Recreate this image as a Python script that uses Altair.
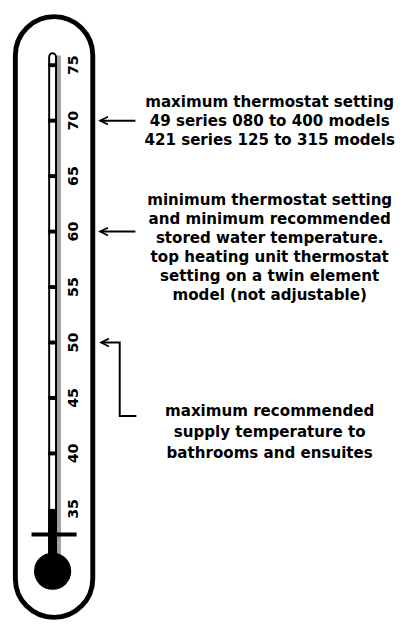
import altair as alt
import pandas as pd

# ---- data values -------------------------------------------------------
TICK_TEMPS = [35, 40, 45, 50, 55, 60, 65, 70, 75]
FILL_LEVEL = 35                      # top of the black column
ANNOT_TEMPS = [70, 60, 50]           # temperatures the arrows point at
ANNOT_TEXTS = [
    "maximum thermostat setting\n49 series 080 to 400 models\n421 series 125 to 315 models",
    "minimum thermostat setting\nand minimum recommended\nstored water temperature.\ntop heating unit thermostat\nsetting on a twin element\nmodel (not adjustable)",
    "maximum recommended\nsupply temperature to\nbathrooms and ensuites",
]

# ---- layout (pixels / temperature units of the drawing) ----------------
W, H = 401, 618
T_DOMAIN = [25.0, 79.6]
xs = alt.Scale(domain=[0, W], nice=False, zero=False)
ys = alt.Scale(domain=T_DOMAIN, nice=False, zero=False)
FONT = "DejaVu Sans"

CASE_X = (7.5, 86.5)
CASE_T = (79.38, 25.22)
TUBE_X = (42, 49)
TUBE_TOP = 76.07
BULB_T = 29.38
TUBE_BOTTOM = 30.0
TICK_X = (41, 50)
SHADOW_X = (50, 54)
CROSS_X = (24, 70)
CROSS_T = 32.69
LABEL_X = 67
ARROW_X = (94, 130)
ELBOW_X = 114
ELBOW_T = 43.38
ELBOW_END = 131
TEXT_X = 267
TEXT_DY = [-19, -32, 70]     # offset of first line from the arrow level
TEXT_LH = [19.2, 19.4, 21.5]


def X(f):
    return alt.X(f, type="quantitative", scale=xs, axis=None)


def Y(f):
    return alt.Y(f, type="quantitative", scale=ys, axis=None)


def box(x0, x1, t0, t1):
    return pd.DataFrame({"x": [x0], "x2": [x1], "y": [t0], "y2": [t1]})


case = alt.Chart(box(*CASE_X, *CASE_T)).mark_rect(
    fill="white", stroke="black", strokeWidth=5, cornerRadius=39.5
).encode(x=X("x"), x2="x2", y=Y("y"), y2="y2")

shadow = alt.Chart(box(*SHADOW_X, TUBE_TOP - 0.2, TUBE_BOTTOM)).mark_rect(
    fill="#a0a0a0"
).encode(x=X("x"), x2="x2", y=Y("y"), y2="y2")

tube = alt.Chart(box(*TUBE_X, TUBE_TOP, TUBE_BOTTOM)).mark_rect(
    fill="white", stroke="black", strokeWidth=2, cornerRadius=3.5
).encode(x=X("x"), x2="x2", y=Y("y"), y2="y2")

mercury = alt.Chart(box(*TICK_X, FILL_LEVEL, TUBE_BOTTOM)).mark_rect(
    fill="black"
).encode(x=X("x"), x2="x2", y=Y("y"), y2="y2")

ticks_df = pd.DataFrame({"t": TICK_TEMPS[1:], "x": TICK_X[0], "x2": TICK_X[1]})
ticks = alt.Chart(ticks_df).mark_rule(
    color="black", strokeWidth=4, strokeCap="butt"
).encode(x=X("x"), x2="x2", y=Y("t"))

cross_df = pd.DataFrame({"t": [CROSS_T], "x": [CROSS_X[0]], "x2": [CROSS_X[1]]})
cross = alt.Chart(cross_df).mark_rule(
    color="black", strokeWidth=4, strokeCap="butt"
).encode(x=X("x"), x2="x2", y=Y("t"))

bulb_df = pd.DataFrame({"x": [(TUBE_X[0] + TUBE_X[1]) / 2], "t": [BULB_T]})
bulb = alt.Chart(bulb_df).mark_point(
    shape="circle", filled=True, color="black", opacity=1, size=1444
).encode(x=X("x"), y=Y("t"))

labels_df = pd.DataFrame({"t": TICK_TEMPS, "x": LABEL_X, "lab": [str(v) for v in TICK_TEMPS]})
labels = alt.Chart(labels_df).mark_text(
    angle=270, font=FONT, fontWeight="bold", fontSize=14.5,
    align="center", baseline="middle", color="black"
).encode(x=X("x"), y=Y("t"), text="lab:N")

arrow_df = pd.DataFrame({"t": ANNOT_TEMPS[:2], "x": ARROW_X[0], "x2": ARROW_X[1]})
arrows = alt.Chart(arrow_df).mark_rule(
    color="black", strokeWidth=2
).encode(x=X("x"), x2="x2", y=Y("t"))

elbow_df = pd.DataFrame({
    "i": [0, 1, 2, 3],
    "x": [ARROW_X[0] + 1, ELBOW_X, ELBOW_X, ELBOW_END],
    "t": [ANNOT_TEMPS[2], ANNOT_TEMPS[2], ELBOW_T, ELBOW_T],
})
elbow = alt.Chart(elbow_df).mark_line(
    color="black", strokeWidth=2, strokeJoin="miter"
).encode(x=X("x"), y=Y("t"), order="i:Q")

heads_df = pd.DataFrame({"t": ANNOT_TEMPS, "x": [ARROW_X[0], ARROW_X[0], ARROW_X[0] + 1]})
heads = alt.Chart(heads_df).mark_point(
    shape="M 8 -4 L 0 0 L 8 4", filled=False, stroke="black",
    strokeWidth=1.8, opacity=1, size=4
).encode(x=X("x"), y=Y("t"))

texts = []
for txt, t, dy, lh in zip(ANNOT_TEXTS, ANNOT_TEMPS, TEXT_DY, TEXT_LH):
    df = pd.DataFrame({"t": [t], "x": [TEXT_X], "s": [txt]})
    texts.append(
        alt.Chart(df).mark_text(
            font=FONT, fontWeight="bold", fontSize=15.4, lineBreak="\n",
            lineHeight=lh, align="center", baseline="middle", dy=dy, color="black"
        ).encode(x=X("x"), y=Y("t"), text="s:N")
    )

chart = alt.layer(
    case, shadow, tube, mercury, ticks, cross, bulb, labels, arrows, elbow, heads, *texts
).properties(
    width=W, height=H, padding=0, autosize=alt.AutoSizeParams(type="none")
).configure_view(strokeWidth=0)

chart.save("out.html", embed_options={"renderer": "svg", "actions": False})
